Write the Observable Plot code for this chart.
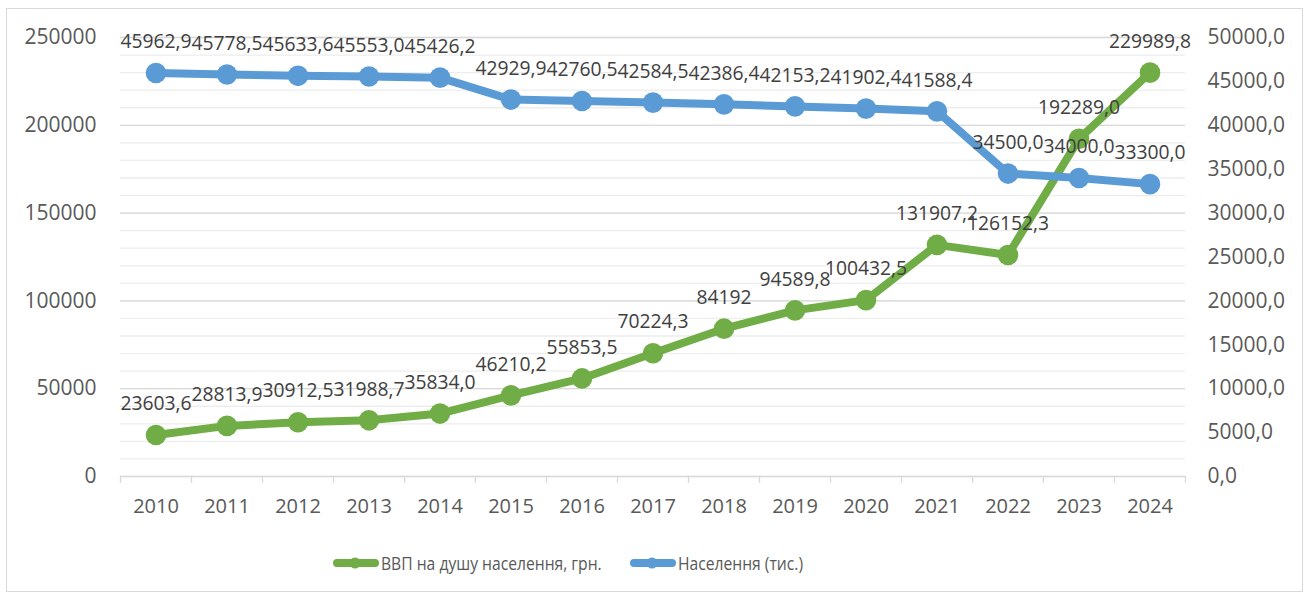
<!DOCTYPE html>
<html><head><meta charset="utf-8">
<script src="https://cdn.jsdelivr.net/npm/d3@7"></script>
<script src="https://cdn.jsdelivr.net/npm/@observablehq/plot@0.6"></script>
<style>
body{margin:0;background:#fff;font-family:"Open Sans",sans-serif;}
#frame{position:absolute;left:6px;top:8px;width:1297px;height:584px;border:1px solid #d9d9d9;box-sizing:border-box;}
#chart{position:absolute;left:0;top:0;}
.leg{position:absolute;top:550px;height:26px;display:flex;align-items:center;font-size:18px;color:#595959;white-space:nowrap;}
.leg svg{margin-right:2px;}
.leg span{display:inline-block;transform:scaleX(0.87);transform-origin:left center;}
</style></head>
<body>
<div id="frame"></div>
<div id="chart"></div>
<div class="leg" id="leg1" style="left:333px"></div>
<div class="leg" id="leg2" style="left:630px"></div>
<script>
const years = [2010,2011,2012,2013,2014,2015,2016,2017,2018,2019,2020,2021,2022,2023,2024];
const gdp = [23603.6,28813.9,30912.5,31988.7,35834.0,46210.2,55853.5,70224.3,84192,94589.8,100432.5,131907.2,126152.3,192289.0,229989.8];
const gdpLabels = ["23603,6","28813,9","30912,5","31988,7","35834,0","46210,2","55853,5","70224,3","84192","94589,8","100432,5","131907,2","126152,3","192289,0","229989,8"];
const population = [45962.9,45778.5,45633.6,45553.0,45426.2,42929.9,42760.5,42584.5,42386.4,42153.2,41902.4,41588.4,34500.0,34000.0,33300.0];
const populationLabels = ["45962,9","45778,5","45633,6","45553,0","45426,2","42929,9","42760,5","42584,5","42386,4","42153,2","41902,4","41588,4","34500,0","34000,0","33300,0"];
const leftTicks = [0,50000,100000,150000,200000,250000];
const rightTicks = [0,5000,10000,15000,20000,25000,30000,35000,40000,45000,50000];
const seriesNames = ["ВВП на душу населення, грн.","Населення (тис.)"];
const colors = ["#70AD47","#5B9BD5"];

const leftMax = leftTicks[leftTicks.length-1];
const rightMax = rightTicks[rightTicks.length-1];
const ratio = leftMax / rightMax;
const minorGrid = d3.range(0, leftMax + 1, 10000);
const bandEdges = [...years.map(y => y - 0.5), years[years.length-1] + 0.5];

const gdpData = years.map((y,i) => ({year:y, v:gdp[i], label:gdpLabels[i]}));
const popData = years.map((y,i) => ({year:y, v:population[i]*ratio, label:populationLabels[i]}));

const chart = Plot.plot({
  width: 1307,
  height: 530,
  marginLeft: 120,
  marginRight: 122,
  marginTop: 37,
  marginBottom: 54,
  style: {fontFamily: "Open Sans", fontSize: "21px", color: "#595959", background: "transparent"},
  x: {type: "linear", domain: [years[0]-0.5, years[years.length-1]+0.5]},
  y: {type: "linear", domain: [0, leftMax]},
  marks: [
    Plot.ruleY(minorGrid, {stroke: "#EDEDED", strokeWidth: 1.3}),
    Plot.ruleY(leftTicks, {stroke: "#D9D9D9", strokeWidth: 1.3}),
    Plot.axisX({ticks: bandEdges, tickSize: 7, tickFormat: () => "", stroke: "#D9D9D9", strokeWidth: 1.3, label: null}),
    Plot.axisX({ticks: years, tickSize: 0, tickPadding: 22, tickFormat: d => String(d), label: null, fontSize: 20}),
    Plot.axisY({anchor: "left", ticks: leftTicks, tickSize: 0, tickPadding: 24, tickFormat: d => String(d), label: null}),
    Plot.axisY({anchor: "right", ticks: rightTicks.map(t => t*ratio), tickSize: 0, tickPadding: 22, tickFormat: d => (d/ratio).toFixed(1).replace(".", ","), label: null}),
    Plot.line(gdpData, {x: "year", y: "v", stroke: colors[0], strokeWidth: 8, strokeLinejoin: "round"}),
    Plot.dot(gdpData, {x: "year", y: "v", r: 10.3, fill: colors[0]}),
    Plot.line(popData, {x: "year", y: "v", stroke: colors[1], strokeWidth: 8, strokeLinejoin: "round"}),
    Plot.dot(popData, {x: "year", y: "v", r: 10.3, fill: colors[1]}),
    Plot.text(gdpData, {x: "year", y: "v", text: "label", dy: -31, fill: "#404040", fontSize: 19.3}),
    Plot.text(popData, {x: "year", y: "v", text: "label", dy: -31, fill: "#404040", fontSize: 19.3})
  ]
});
document.getElementById("chart").appendChild(chart);

function legendSwatch(color){
  return `<svg width="46" height="14"><line x1="4" y1="7" x2="42" y2="7" stroke="${color}" stroke-width="8" stroke-linecap="round"/><circle cx="22" cy="7" r="5.5" fill="${color}"/></svg>`;
}
document.getElementById("leg1").innerHTML = legendSwatch(colors[0]) + `<span>${seriesNames[0]}</span>`;
document.getElementById("leg2").innerHTML = legendSwatch(colors[1]) + `<span>${seriesNames[1]}</span>`;
</script>
</body></html>
